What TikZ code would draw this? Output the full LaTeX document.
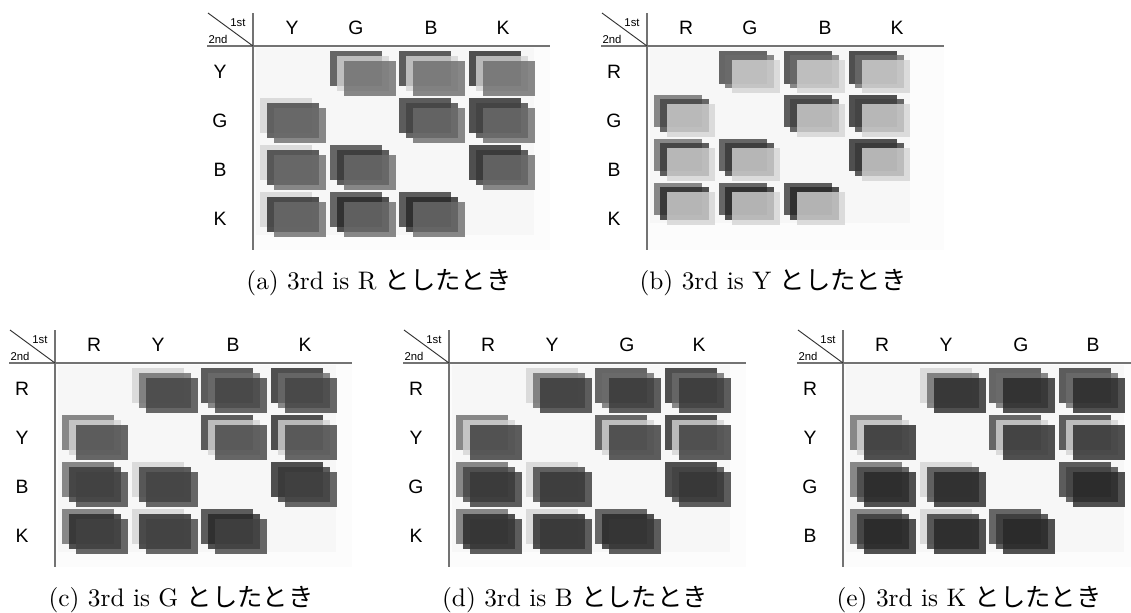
\documentclass[tikz,border=0pt]{standalone}
\usepackage{fontspec}
\usepackage{tikz}

\newfontfamily\hdfont{Liberation Sans}
\newfontfamily\jpfont{Noto Sans CJK JP}

% grey levels of the five colours
\definecolor{cR}{gray}{0.42}
\definecolor{cY}{gray}{0.83}
\definecolor{cG}{gray}{0.26}
\definecolor{cB}{gray}{0.21}
\definecolor{cK}{gray}{0.15}

\tikzset{
	sq/.style={fill=#1, fill opacity=0.8},
	rule/.style={black!55, line width=1.4pt},
	hd/.style={font=\hdfont\fontsize{14.5}{16}\selectfont},
	corner/.style={font=\hdfont\fontsize{8.5}{9}\selectfont, inner sep=0pt},
	captext/.style={font=\fontsize{10}{12}\selectfont, scale=1.9, transform shape}
}

% #1,#2 = corner of the table, #3 = size of the cells, #4 = 1st/2nd colours, #5 = 3rd colour, #6 = label
\newcommand{\colortable}[6]{
	% faint backdrop of the whole table body
	\fill[gray!2] (#1,#2) rectangle (#1+297,#2+204);
	
	% Cells: 1st at top left, 2nd in the middle, 3rd at bottom right
	\begin{scope}[shift={(#1+3,#2+2)}, scale=#3]
		\fill[gray!6] (0,0) rectangle (278,187);
		\foreach \c [count=\j] in {#4}{
			\foreach \r [count=\i] in {#4}{
				\ifnum\i=\j\else
					\fill[sq=c\c] ({4+69.5*(\j-1)},{3+47*(\i-1)}) rectangle ++(52,35);
					\fill[sq=c\r] ({11+69.5*(\j-1)},{8+47*(\i-1)}) rectangle ++(52,35);
					\fill[sq=c#5] ({18+69.5*(\j-1)},{13+47*(\i-1)}) rectangle ++(52,35);
				\fi
			}
		}
	\end{scope}
	
	% Column and row headers
	\foreach \c [count=\j] in {#4}{
		\pgfmathsetmacro{\hx}{{39,103,178,250}[\j-1]}
		\node[hd] (#6col\j) at (#1+\hx,#2-18) {\c};
		\node[hd] (#6row\j) at (#1-33,{#2+26+49*(\j-1)}) {\c};
	}
	
	% Table rules and corner
	\draw[rule] (#1,#2-33) -- (#1,#2+204);
	\draw[rule] (#1-46,#2) -- (#1+297,#2);
	\draw[black!80, line width=0.7pt] (#1-45,#2-33) -- (#1,#2);
	\node[corner] (#6first) at (#1-15,#2-23) {1st};
	\node[corner] (#6second) at (#1-35,#2-7) {2nd};
	
	% Caption
	\node[captext] (#6cap) at (#1+126,#2+237) {(#6) 3rd is #5 {\jpfont としたとき}};
}

\begin{document}
\begin{tikzpicture}[x=0.75pt, y=-0.75pt]
	
	\useasboundingbox (0,0) rectangle (1131,612);
	
	% Top row
	\colortable{253}{46}{1}{Y,G,B,K}{R}{a}
	\colortable{647}{46}{0.935}{R,G,B,K}{Y}{b}
	
	% Bottom row
	\colortable{55}{363}{1}{R,Y,B,K}{G}{c}
	\colortable{449}{363}{1}{R,Y,G,K}{B}{d}
	\colortable{843}{363}{1}{R,Y,G,B}{K}{e}
	
\end{tikzpicture}
\end{document}
